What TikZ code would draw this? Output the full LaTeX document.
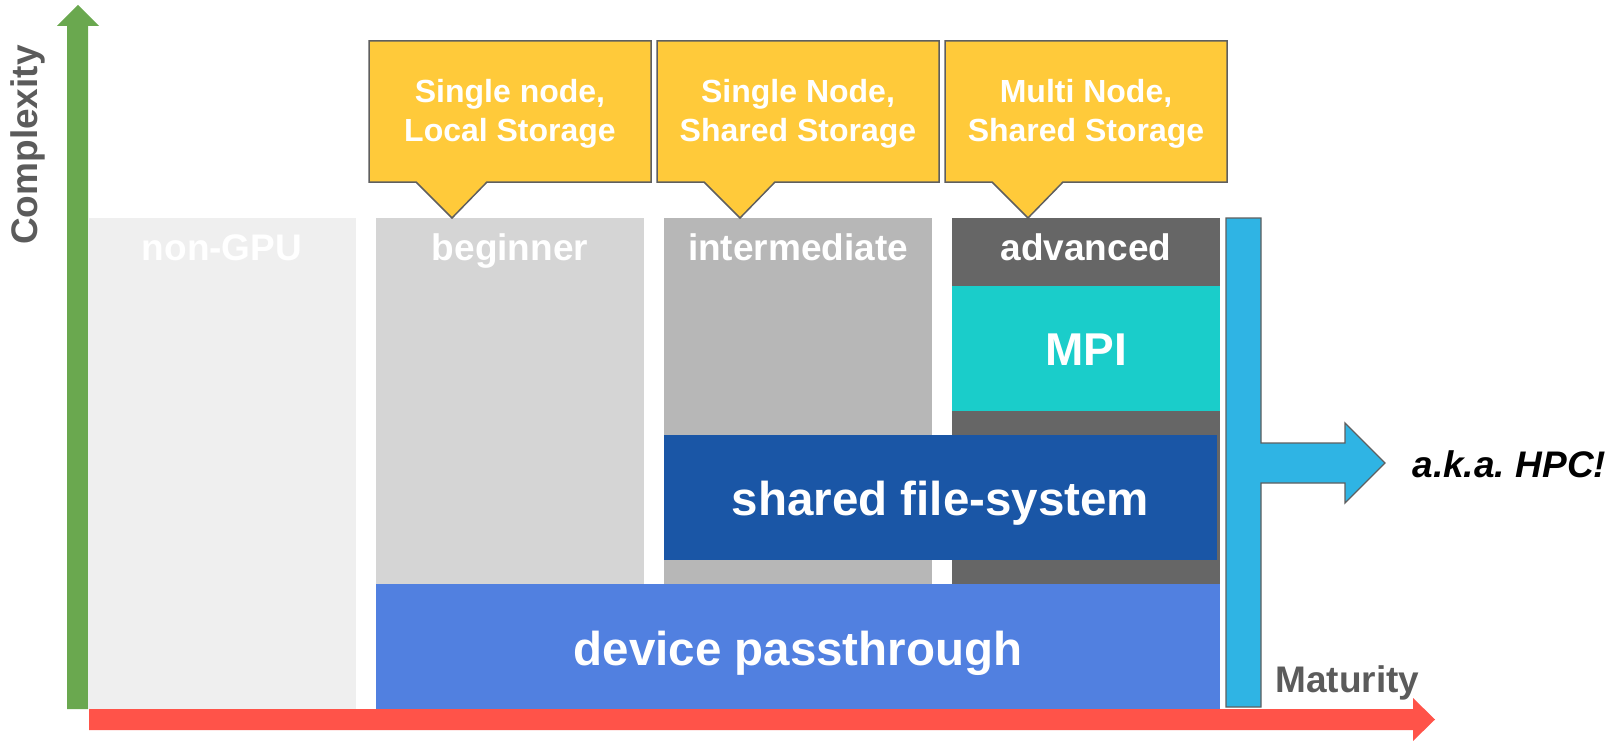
\documentclass[tikz,border=0pt]{standalone}
\usepackage{fontspec}
\setmainfont{Liberation Sans}
\usetikzlibrary{positioning}

\definecolor{nongpucol}{HTML}{EFEFEF}
\definecolor{beginnercol}{HTML}{D5D5D5}
\definecolor{intercol}{HTML}{B7B7B7}
\definecolor{advcol}{HTML}{666666}
\definecolor{mpicol}{HTML}{1ACDCA}
\definecolor{fscol}{HTML}{1A56A6}
\definecolor{devcol}{HTML}{5180E0}
\definecolor{hpccol}{HTML}{2FB4E4}
\definecolor{notecol}{HTML}{FFCA3A}
\definecolor{edgecol}{HTML}{5F5F5F}
\definecolor{axisgreen}{HTML}{6AA84F}
\definecolor{axisred}{HTML}{FF5349}
\definecolor{axistext}{HTML}{5B5B5B}

\tikzset{
  box/.style={inner sep=0pt, outer sep=0pt},
  col/.style={box, minimum width=268pt, minimum height=366pt, anchor=north west},
  band/.style={box, minimum height=125pt, anchor=north west},
  colname/.style={anchor=base, text=white, font={\fontsize{37}{44}\selectfont\bfseries}},
  bandname/.style={anchor=base, text=white, font={\fontsize{46}{54}\selectfont\bfseries}},
  note/.style={fill=notecol, draw=edgecol, line width=1.5pt, line join=miter},
  notetext/.style={text=white, align=center, font={\fontsize{32}{39}\selectfont\bfseries}},
  axisname/.style={text=axistext, font={\fontsize{37}{44}\selectfont\bfseries}},
}

\begin{document}
\begin{tikzpicture}[x=1pt, y=-1pt]
        \useasboundingbox (0,0) rectangle (1612,741);

        % axes
        \fill[axisgreen] (67,709) -- (67,26) -- (57,26) -- (78,5) -- (99,26) -- (88,26) -- (88,709) -- cycle;
        \fill[axisred] (89,709) -- (1413,709) -- (1413,698) -- (1435,719.5) -- (1413,741) -- (1413,730) -- (89,730) -- cycle;
        \node[axisname, anchor=base, rotate=90] (complexity) at (37,145) {Complexity};
        \node[axisname, anchor=base west] (maturity) at (1272,692) {Maturity};

        % columns
        \node[col, fill=nongpucol, minimum height=491pt] (nongpu) at (88,218) {};
        \node[col, fill=beginnercol] (beginner) at (376,218) {};
        \node[col, fill=intercol] (inter) at (664,218) {};
        \node[col, fill=advcol] (adv) at (952,218) {};

        \node[colname] at ([yshift=-42pt]nongpu.north) {non-GPU};
        \node[colname] at ([yshift=-42pt]beginner.north) {beginner};
        \node[colname] at ([yshift=-42pt]inter.north) {intermediate};
        \node[colname] at ([yshift=-42pt]adv.north) {advanced};

        % features
        \node[band, fill=mpicol, minimum width=268pt] (mpi) at (952,286) {};
        \node[band, fill=fscol, minimum width=553pt] (fs) at (664,435) {};
        \node[band, fill=devcol, minimum width=844pt] (dev) at (376,584) {};

        \node[bandname] at ([yshift=-17pt]mpi.center) {MPI};
        \node[bandname, font={\fontsize{47.5}{54}\selectfont\bfseries}] at ([yshift=-18pt]fs.center) {shared file-system};
        \node[bandname, font={\fontsize{47.5}{54}\selectfont\bfseries}] at ([yshift=-18.5pt]dev.center) {device passthrough};

        % callouts
        \foreach \col/\txt in {beginner/{Single node,\\Local Storage}, inter/{Single Node,\\Shared Storage}, adv/{Multi Node,\\Shared Storage}} {
                \filldraw[note] ([shift={(-7,-177)}]\col.north west) -- ([shift={(7,-177)}]\col.north east)
                        -- ([shift={(7,-36)}]\col.north east) -- ([shift={(111,-36)}]\col.north west)
                        -- ([shift={(-58,0)}]\col.north) -- ([shift={(40,-36)}]\col.north west)
                        -- ([shift={(-7,-36)}]\col.north west) -- cycle;
                \node[notetext] (\col-note) at ([yshift=104pt]\col.north) {\txt};
        }

        % HPC arrow
        \filldraw[fill=hpccol, draw=edgecol, line width=1.3pt, line join=miter]
                (1226,218) -- (1261,218) -- (1261,443) -- (1345,443) -- (1345,423) -- (1385,463)
                -- (1345,503) -- (1345,483) -- (1261,483) -- (1261,707) -- (1226,707) -- cycle;
        \node[anchor=base west, font={\fontsize{37}{44}\selectfont\bfseries\itshape}] (hpc) at (1409,477) {a.k.a.\hspace{-3pt} HPC!};
\end{tikzpicture}
\end{document}
